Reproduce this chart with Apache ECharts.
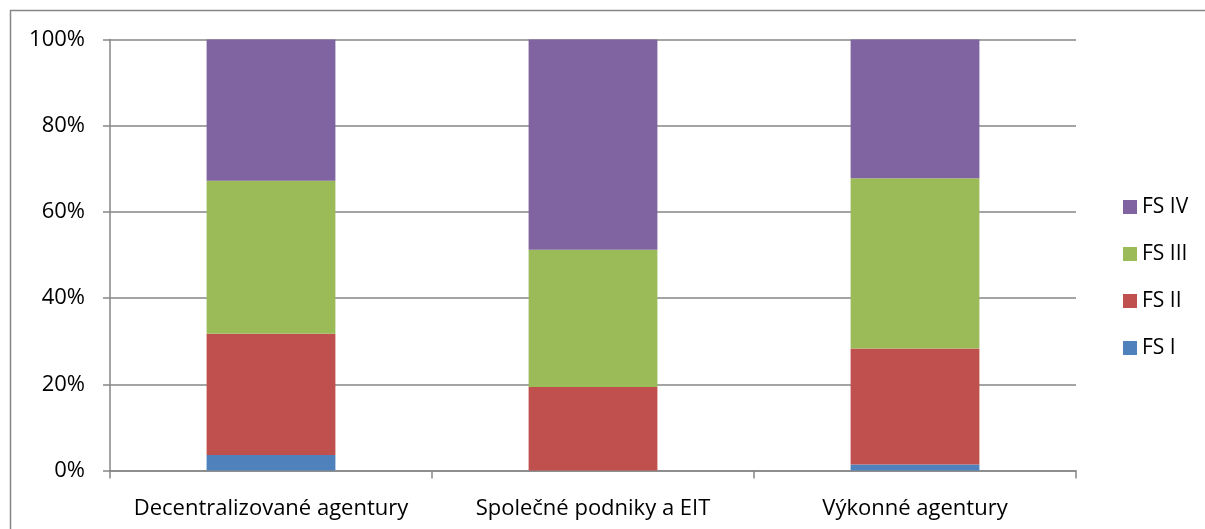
<!DOCTYPE html>
<html>
<head>
<meta charset="utf-8">
<script src="https://cdn.jsdelivr.net/npm/echarts@6/dist/echarts.min.js"></script>
<style>
  html, body { margin: 0; padding: 0; background: #fff; }
  #chart { width: 1205px; height: 529px; }
</style>
</head>
<body>
<div id="chart"></div>
<script>
// categories and share of each FS level (%)
const categories = ['Decentralizované agentury', 'Společné podniky a EIT', 'Výkonné agentury'];
const fsI = [3.6, 0, 1.4];
const fsII = [28.1, 19.4, 26.9];
const fsIII = [35.5, 31.8, 39.5];
const fsIV = [32.8, 48.8, 32.2];
const yTicks = [0, 20, 40, 60, 80, 100];

const chartDom = document.getElementById('chart');
const myChart = echarts.init(chartDom);

const font = '"Open Sans", "Noto Sans", sans-serif';
const gray = '#868686';

const seriesList = [
    { name: 'FS I', data: fsI, color: '#4F81BD' },
    { name: 'FS II', data: fsII, color: '#C0504D' },
    { name: 'FS III', data: fsIII, color: '#9BBB59' },
    { name: 'FS IV', data: fsIV, color: '#8064A2' }
];

let option = {
    animation: false,
    backgroundColor: '#fff',
    textStyle: { fontFamily: font },
    graphic: [{
        type: 'rect',
        shape: { x: 10.5, y: 10.5, width: 1300, height: 600 },
        style: { fill: 'none', stroke: gray, lineWidth: 1.5 },
        silent: true
    }],
    grid: { left: 110, right: 129, top: 39.5, bottom: 58.5 },
    legend: {
        orient: 'vertical',
        left: 1118,
        top: 191,
        itemWidth: 14,
        itemHeight: 14,
        itemGap: 25,
        icon: 'rect',
        textStyle: { fontSize: 21, lineHeight: 22, color: '#000', fontFamily: font },
        data: ['FS IV', 'FS III', 'FS II', 'FS I']
    },
    xAxis: {
        type: 'category',
        data: categories,
        axisLine: { lineStyle: { color: gray, width: 1.5 } },
        axisTick: { show: true, length: 8, alignWithLabel: false, lineStyle: { color: gray, width: 1.5 } },
        axisLabel: { color: '#000', fontSize: 22, margin: 27, interval: 0, hideOverlap: false, fontFamily: font }
    },
    yAxis: {
        type: 'value',
        min: 0,
        max: 100,
        interval: 20,
        axisLine: { show: true, lineStyle: { color: gray, width: 1.5 } },
        axisTick: { show: true, length: 7, lineStyle: { color: gray, width: 1.5 } },
        axisLabel: {
            color: '#000',
            fontSize: 22,
            margin: 25,
            fontFamily: font,
            formatter: function (v) { return yTicks.indexOf(v) >= 0 ? v + '%' : ''; }
        },
        splitLine: { lineStyle: { color: gray, width: 1.5 } }
    },
    series: []
};

option.series = seriesList.map(item => {
    return {
        name: item.name,
        type: 'bar',
        stack: 'total',
        barWidth: '40%',
        data: item.data,
        itemStyle: { color: item.color }
    };
});

myChart.setOption(option);
</script>
</body>
</html>
